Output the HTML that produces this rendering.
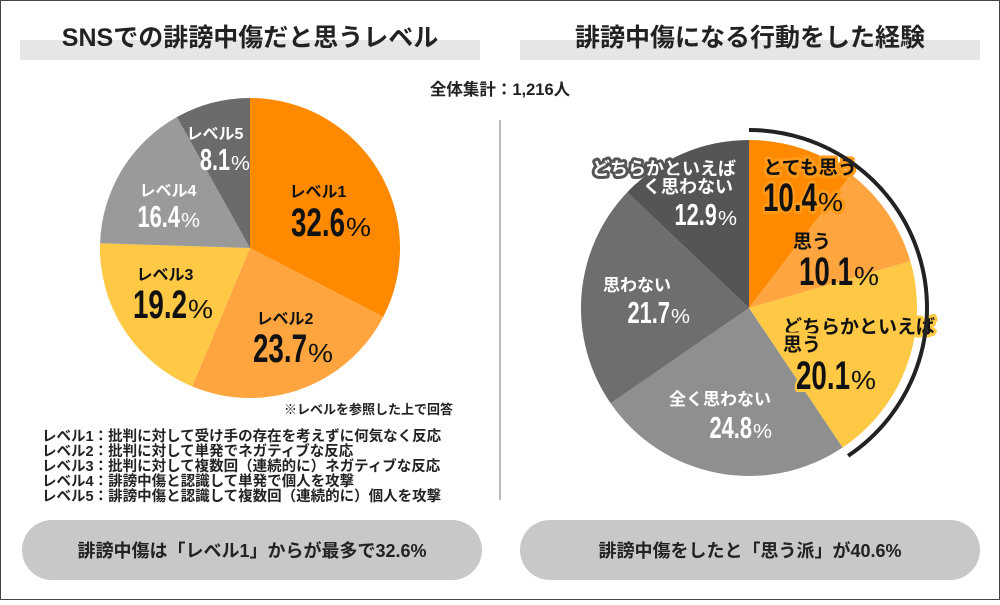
<!DOCTYPE html>
<html><head><meta charset="utf-8">
<style>
body{margin:0;background:#fff;}
svg text{font-family:"Liberation Sans","Noto Sans CJK JP",sans-serif;font-weight:bold;}
</style></head>
<body>
<svg width="1000" height="600" viewBox="0 0 1000 600">
<rect x="0.5" y="0.5" width="999" height="599" fill="#fff" stroke="#444"/>
<rect x="20" y="40" width="460" height="20" fill="#e6e6e6"/>
<text x="250" y="46" text-anchor="middle" font-size="25" fill="#222">SNSでの誹謗中傷だと思うレベル</text>
<rect x="520" y="40" width="460" height="20" fill="#e6e6e6"/>
<text x="750" y="46" text-anchor="middle" font-size="25" fill="#222">誹謗中傷になる行動をした経験</text>
<text x="500" y="95" text-anchor="middle" font-size="16.5" fill="#222">全体集計：1,216人</text>
<line x1="500" y1="120" x2="500" y2="500" stroke="#bbb" stroke-width="2"/>
<g id="left"></g>
<g id="right"></g>
<text x="453" y="414" text-anchor="end" font-size="13" fill="#222">※レベルを参照した上で回答</text>
<g font-size="14.5" fill="#222">
<text x="42" y="441">レベル1：批判に対して受け手の存在を考えずに何気なく反応</text>
<text x="42" y="456">レベル2：批判に対して単発でネガティブな反応</text>
<text x="42" y="471">レベル3：批判に対して複数回（連続的に）ネガティブな反応</text>
<text x="42" y="486">レベル4：誹謗中傷と認識して単発で個人を攻撃</text>
<text x="42" y="501">レベル5：誹謗中傷と認識して複数回（連続的に）個人を攻撃</text>
</g>
<rect x="22" y="520" width="460" height="60" rx="30" fill="#c8c8c8"/>
<text x="252" y="557" text-anchor="middle" font-size="18" fill="#222">誹謗中傷は「レベル1」からが最多で32.6%</text>
<rect x="520" y="520" width="460" height="60" rx="30" fill="#c8c8c8"/>
<text x="750" y="557" text-anchor="middle" font-size="18" fill="#222">誹謗中傷をしたと「思う派」が40.6%</text>
</svg>
<script>
const leftCategories=["レベル1","レベル2","レベル3","レベル4","レベル5"];
const leftValues=[32.6,23.7,19.2,16.4,8.1];
const rightCategories=["とても思う","思う","どちらかといえば\n思う","全く思わない","思わない","どちらかといえば\nく思わない"];
const rightValues=[10.4,10.1,20.1,24.8,21.7,12.9];
const arcValue=40.6;

const NS="http://www.w3.org/2000/svg";
function mk(t,a,p){const e=document.createElementNS(NS,t);for(const k in a)e.setAttribute(k,a[k]);p.appendChild(e);return e;}
function pt(cx,cy,r,f){const a=f*2*Math.PI-Math.PI/2;return [cx+r*Math.cos(a),cy+r*Math.sin(a)];}
function slicePath(cx,cy,r,f0,f1){const p0=pt(cx,cy,r,f0),p1=pt(cx,cy,r,f1);const lg=(f1-f0)>0.5?1:0;
return `M${cx},${cy}L${p0[0]},${p0[1]}A${r},${r} 0 ${lg} 1 ${p1[0]},${p1[1]}Z`;}

function pie(g,cats,vals,cx,cy,r,colors,cfg,prefix){
  const tot=vals.reduce((a,b)=>a+b,0);let acc=0;
  vals.forEach((v,i)=>{const f0=acc/tot,f1=(acc+v)/tot;acc+=v;
    const p=mk('path',{d:slicePath(cx,cy,r,f0,f1),fill:colors[i]},g);
    
    
  });
  vals.forEach((v,i)=>{
    const c=cfg[i];
    const halo=c.halo?{stroke:c.halo,'stroke-width':6,'paint-order':'stroke','stroke-linejoin':'round'}:{};
    const lines=cats[i].split('\n');
    lines.forEach((ln,j)=>{
      const t=mk('text',Object.assign({x:c.lx[j],y:c.ly[j],'text-anchor':c.anchor||'middle','font-size':c.fs1,fill:c.col},halo),g);
      t.textContent=ln;
      
      
    });
    const big=c.big;
    const s=v.toFixed(1);
    const w=s.replace('.','').length*(big?16:12.5)+(big?6:5);
    const num=mk('text',Object.assign({x:c.jx,y:c.vy,'text-anchor':'end','font-size':big?40:31,fill:c.col,textLength:w,lengthAdjust:'spacingAndGlyphs'},halo),g);
    num.textContent=s;
    
    
    const pc=mk('text',Object.assign({x:c.jx+1,y:c.vy,'font-size':big?26:20,fill:c.col,textLength:big?25:19,lengthAdjust:'spacingAndGlyphs'},halo),g);
    pc.setAttribute('style','font-weight:normal');
    pc.textContent='%';
    
    
  });
}
const L=document.getElementById('left');
pie(L,leftCategories,leftValues,250,248,150,["#FF8A00","#FFA53F","#FFC845","#9A9A9A","#6B6B6B"],[
 {lx:[318],ly:[197],fs1:16,col:"#111",jx:345,vy:236,big:true},
 {lx:[285],ly:[324],fs1:16,col:"#111",jx:307,vy:362,big:true},
 {lx:[165],ly:[280],fs1:16,col:"#111",jx:187,vy:318,big:true},
 {lx:[168],ly:[196],fs1:16,col:"#fff",jx:180,vy:227,big:false},
 {lx:[215],ly:[139],fs1:16,col:"#fff",jx:230,vy:170,big:false}],'left');
const R=document.getElementById('right');
pie(R,rightCategories,rightValues,749,308,168,["#FF8A00","#FFA53F","#FFC845","#8F8F8F","#6E6E6E","#555555"],[
 {lx:[810],ly:[174],fs1:19,col:"#111",jx:817,vy:211,big:true,halo:"#FF9A1A"},
 {lx:[812],ly:[248],fs1:19,col:"#111",jx:853,vy:285,big:true},
 {lx:[783,783],ly:[333,351],anchor:'start',fs1:19,col:"#111",jx:850,vy:389,big:true,halo:"#FFC845"},
 {lx:[720],ly:[405],fs1:17,col:"#fff",jx:752,vy:438,big:false},
 {lx:[637],ly:[291],fs1:17,col:"#fff",jx:670,vy:323,big:false},
 {lx:[664,688],ly:[175,193],fs1:18,col:"#fff",jx:717,vy:225,big:false,halo:"#555555"}],'right');
const f=arcValue/100, r=178, p0=pt(749,308,r,0), p1=pt(749,308,r,f);
const arc=mk('path',{d:`M${p0[0]},${p0[1]}A${r},${r} 0 0 1 ${p1[0]},${p1[1]}`,fill:'none',stroke:'#222','stroke-width':4},R);


</script>
</body></html>
